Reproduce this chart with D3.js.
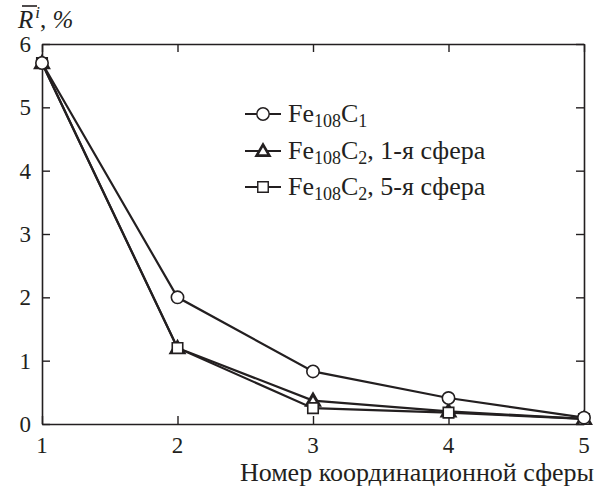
<!DOCTYPE html>
<html><head><meta charset="utf-8">
<script src="https://cdn.jsdelivr.net/npm/d3@7"></script>
<style>
body{margin:0;background:#fff;font-family:"Liberation Serif","Times New Roman",serif}
svg{display:block}
svg text{font-family:"Liberation Serif","Times New Roman",serif}
</style>
</head><body><svg id="c" width="602" height="490"></svg>
<script>
const spheres = [1, 2, 3, 4, 5];
const seriesC1 = [5.7, 2.0, 0.83, 0.41, 0.10];
const seriesC2first = [5.7, 1.2, 0.37, 0.20, 0.08];
const seriesC2fifth = [5.7, 1.2, 0.25, 0.18, 0.08];
const xTicks = [1, 2, 3, 4, 5];
const yTicks = [0, 1, 2, 3, 4, 5, 6];
const legendLabels = [
  {base: "Fe", sub1: "108", mid: "C", sub2: "1", rest: ""},
  {base: "Fe", sub1: "108", mid: "C", sub2: "2", rest: ", 1-я сфера"},
  {base: "Fe", sub1: "108", mid: "C", sub2: "2", rest: ", 5-я сфера"}
];
const xLabel = "Номер координационной сферы";

const svg = d3.select("#c");
const ink = "#231f20";
const L = 42, R = 584, T = 44, B = 424;
const x = d3.scaleLinear().domain([1, 5]).range([L, R]);
const y = d3.scaleLinear().domain([0, 6]).range([B, T]);

// axes (frame with inward ticks)
const tl = 8;
const gB = svg.append("g").attr("transform", `translate(0,${B})`)
  .call(d3.axisTop(x).tickValues(xTicks).tickSize(tl).tickFormat("").tickSizeOuter(0));
const gT = svg.append("g").attr("transform", `translate(0,${T})`)
  .call(d3.axisBottom(x).tickValues(xTicks).tickSize(tl).tickFormat("").tickSizeOuter(0));
const gL = svg.append("g").attr("transform", `translate(${L},0)`)
  .call(d3.axisRight(y).tickValues(yTicks).tickSize(tl).tickFormat("").tickSizeOuter(0));
const gR = svg.append("g").attr("transform", `translate(${R},0)`)
  .call(d3.axisLeft(y).tickValues(yTicks).tickSize(tl).tickFormat("").tickSizeOuter(0));
[gB, gT, gL, gR].forEach(g => {
  g.attr("font-family", null).attr("font-size", null);
  g.selectAll("path").attr("stroke", ink).attr("stroke-width", 1.6);
  g.selectAll("line").attr("stroke", ink).attr("stroke-width", 1.4);
  g.selectAll("text").remove();
});

const txt = sel => sel.attr("fill", ink);

// tick labels
svg.append("g").selectAll("text").data(xTicks).join("text").call(txt)
  .attr("x", d => x(d)).attr("y", 453).attr("text-anchor", "middle")
  .attr("font-size", 23).text(d => d);
svg.append("g").selectAll("text").data(yTicks).join("text").call(txt)
  .attr("x", 31).attr("y", d => y(d) + 8).attr("text-anchor", "end")
  .attr("font-size", 23).text(d => d);

// x label
svg.append("text").call(txt).attr("x", 594).attr("y", 481).attr("text-anchor", "end")
  .attr("font-size", 26).text(xLabel);

// y label
const yl = svg.append("text").call(txt).attr("x", 18).attr("y", 28).attr("font-size", 25);
yl.append("tspan").attr("font-style", "italic").text("R");
yl.append("tspan").attr("font-style", "italic").attr("font-size", 17).attr("dy", -10).attr("dx", 2).text("i");
yl.append("tspan").attr("dy", 10).text(", ");
yl.append("tspan").attr("font-style", "italic").text("%");
svg.append("line").attr("x1", 22).attr("x2", 37).attr("y1", 6).attr("y2", 6)
  .attr("stroke", ink).attr("stroke-width", 1.6);

// data
const line = d3.line().x((d, i) => x(spheres[i])).y(d => y(d));
const series = [
  {vals: seriesC2first, sym: "tri"},
  {vals: seriesC2fifth, sym: "sq"},
  {vals: seriesC1, sym: "circ"}
];
const symPath = {
  tri: d3.symbol().type(d3.symbolTriangle).size(70)(),
  sq: d3.symbol().type(d3.symbolSquare).size(110)(),
  circ: d3.symbol().type(d3.symbolCircle).size(120)()
};
const symStroke = {tri: 3, sq: 1.6, circ: 1.6};
series.forEach(s => {
  svg.append("path").datum(s.vals).attr("d", line).attr("fill", "none")
    .attr("stroke", ink).attr("stroke-width", 2.2);
});
series.forEach(s => {
  svg.append("g").selectAll("path").data(s.vals).join("path")
    .attr("d", symPath[s.sym])
    .attr("transform", (d, i) => `translate(${x(spheres[i])},${y(d) + (s.sym === "tri" ? 1 : 0)})`)
    .attr("fill", "#fff").attr("stroke", ink).attr("stroke-width", symStroke[s.sym]);
});

// legend
const legSyms = ["circ", "tri", "sq"];
const legY = [114, 151, 187];
legendLabels.forEach((lab, i) => {
  const g = svg.append("g");
  g.append("line").attr("x1", 245).attr("x2", 281).attr("y1", legY[i]).attr("y2", legY[i])
    .attr("stroke", ink).attr("stroke-width", 2);
  g.append("path").attr("d", symPath[legSyms[i]])
    .attr("transform", `translate(263,${legY[i] + (legSyms[i] === "tri" ? 1 : 0)})`)
    .attr("fill", "#fff").attr("stroke", ink).attr("stroke-width", symStroke[legSyms[i]] * 0.9);
  const t = g.append("text").call(txt).attr("x", 288).attr("y", legY[i] + 8).attr("font-size", 26);
  t.append("tspan").text(lab.base);
  t.append("tspan").attr("font-size", 18).attr("dy", 5).text(lab.sub1);
  t.append("tspan").attr("dy", -5).text(lab.mid);
  t.append("tspan").attr("font-size", 18).attr("dy", 5).text(lab.sub2);
  if (lab.rest) t.append("tspan").attr("dy", -5).text(lab.rest);
});
</script></body></html>
